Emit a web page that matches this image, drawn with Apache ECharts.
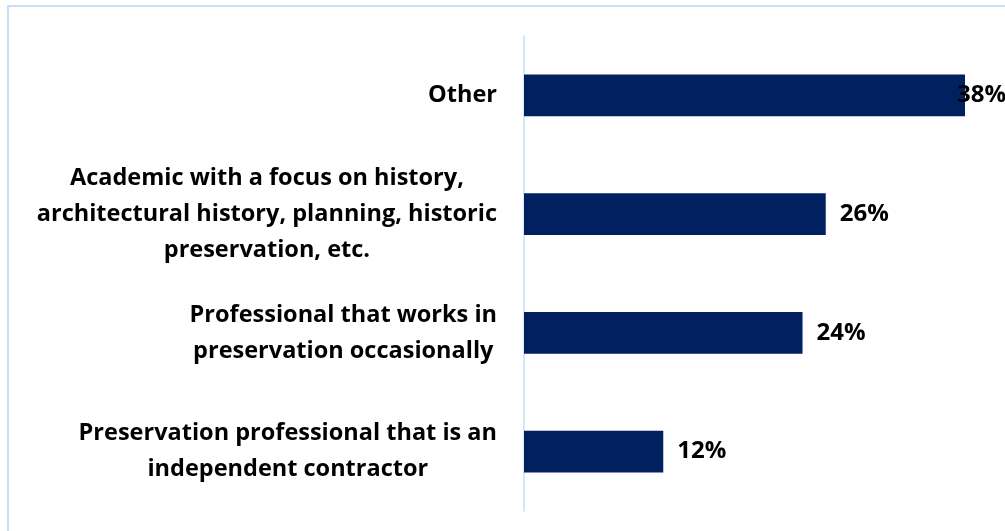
<!DOCTYPE html>
<html>
<head>
<meta charset="utf-8">
<script src="https://cdn.jsdelivr.net/npm/echarts@6/dist/echarts.min.js"></script>
<style>
html,body{margin:0;padding:0;background:#fff;}
#chart{width:1005px;height:531px;}
</style>
</head>
<body>
<div id="chart"></div>
<script>
const categories = [
  "Other",
  "Academic with a focus on history,\narchitectural history, planning, historic\npreservation, etc.",
  "Professional that works in\npreservation occasionally",
  "Preservation professional that is an\nindependent contractor"
];
const values = [38, 26, 24, 12];

const FONT = "'Open Sans', sans-serif";
const chart = echarts.init(document.getElementById('chart'));
chart.setOption({
  backgroundColor: '#ffffff',
  animation: false,
  graphic: [{
    type: 'rect',
    shape: { x: 8, y: 6, width: 1100, height: 600 },
    style: { fill: 'none', stroke: '#c6e0f8', lineWidth: 2 },
    silent: true
  }],
  grid: { left: 524, right: 40, top: 36, bottom: 20, containLabel: false },
  xAxis: {
    type: 'value', min: 0, max: 38,
    show: false
  },
  yAxis: {
    type: 'category',
    inverse: true,
    data: categories,
    axisLine: { show: true, lineStyle: { color: '#c6e0f8', width: 1.5 } },
    axisTick: { show: false },
    axisLabel: {
      margin: 27,
      formatter: function (v) {
        return v.split('\n').map(function (l) { return '{c|' + l + '}'; }).join('\n');
      },
      rich: {
        c: { align: 'center', fontSize: 23.5, fontWeight: 'bold', fontFamily: FONT, color: '#000', lineHeight: 36 }
      }
    }
  },
  series: [{
    type: 'bar',
    data: values.map(function (v, i) {
      return i === 0 ? { value: v, label: { offset: [-22, 0] } } : v;
    }),
    barWidth: '35%',
    itemStyle: { color: '#002060' },
    label: {
      show: true, position: 'right', distance: 14,
      formatter: '{c}%',
      fontSize: 24, fontWeight: 'bold', fontFamily: FONT, color: '#000'
    }
  }]
});
</script>
</body>
</html>
